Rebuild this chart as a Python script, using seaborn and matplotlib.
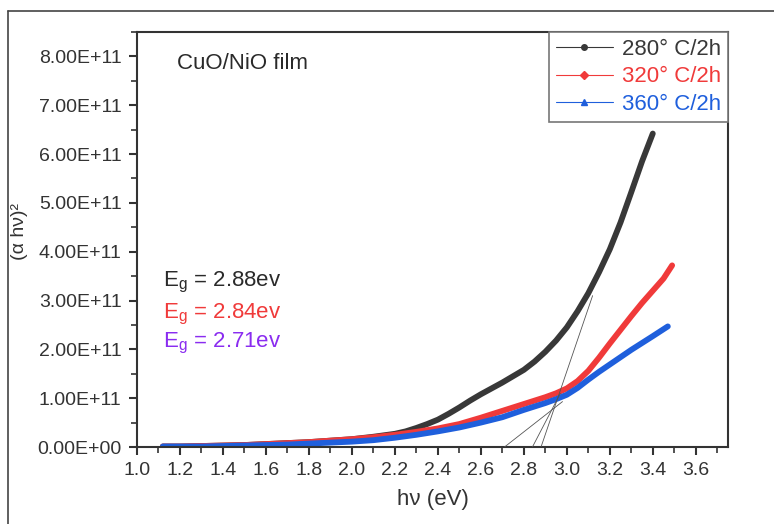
import numpy as np
import pandas as pd
import matplotlib
matplotlib.use("Agg")
import matplotlib.pyplot as plt
from matplotlib.lines import Line2D
from matplotlib.ticker import MultipleLocator, FuncFormatter
import seaborn as sns

# ---- data ----
x_280 = [1.12, 1.2, 1.3, 1.4, 1.5, 1.6, 1.7, 1.8, 1.9, 2.0, 2.1, 2.2, 2.25, 2.3, 2.35, 2.4, 2.45, 2.5,
         2.55, 2.6, 2.65, 2.7, 2.75, 2.8, 2.85, 2.9, 2.95, 3.0, 3.05, 3.1, 3.15, 3.2, 3.25, 3.3, 3.35, 3.40]
y_280 = [0.01, 0.01, 0.02, 0.03, 0.04, 0.06, 0.08, 0.10, 0.13, 0.16, 0.21, 0.27, 0.32, 0.39, 0.47, 0.56, 0.68, 0.81,
         0.95, 1.08, 1.20, 1.32, 1.45, 1.58, 1.75, 1.95, 2.18, 2.45, 2.78, 3.15, 3.58, 4.05, 4.60, 5.22, 5.85, 6.42]

x_320 = [1.12, 1.2, 1.3, 1.4, 1.5, 1.6, 1.7, 1.8, 1.9, 2.0, 2.1, 2.2, 2.3, 2.4, 2.5,
         2.6, 2.7, 2.8, 2.9, 2.95, 3.0, 3.05, 3.1, 3.15, 3.2, 3.25, 3.3, 3.35, 3.4, 3.45, 3.49]
y_320 = [0.01, 0.01, 0.02, 0.03, 0.04, 0.06, 0.08, 0.10, 0.13, 0.16, 0.20, 0.25, 0.31, 0.38, 0.47,
         0.60, 0.74, 0.88, 1.02, 1.10, 1.20, 1.35, 1.56, 1.83, 2.12, 2.40, 2.68, 2.95, 3.20, 3.45, 3.72]

x_360 = [1.12, 1.2, 1.3, 1.4, 1.5, 1.6, 1.7, 1.8, 1.9, 2.0, 2.1, 2.2, 2.3, 2.4, 2.5,
         2.6, 2.7, 2.8, 2.9, 2.95, 3.0, 3.05, 3.1, 3.15, 3.2, 3.25, 3.3, 3.35, 3.4, 3.47]
y_360 = [0.01, 0.01, 0.01, 0.02, 0.03, 0.04, 0.05, 0.07, 0.09, 0.11, 0.14, 0.19, 0.25, 0.32, 0.40,
         0.50, 0.61, 0.76, 0.90, 0.98, 1.07, 1.21, 1.38, 1.54, 1.69, 1.84, 1.99, 2.13, 2.27, 2.47]

scale = 1e11
labels = ["280° C/2h", "320° C/2h", "360° C/2h"]
colors = ["#383838", "#f03a3a", "#1f5fdc"]
markers = ["o", "D", "^"]

# tangent lines: band gap intercept and upper end point
eg_values = [2.88, 2.84, 2.71]
tan_end_x = [3.12, 2.97, 2.98]
tan_end_y = [3.10, 1.10, 0.93]
eg_labels = ["2.88ev", "2.84ev", "2.71ev"]
eg_colors = ["#2a2a2a", "#f03a3a", "#8a2cf0"]

xticks = [1.0, 1.2, 1.4, 1.6, 1.8, 2.0, 2.2, 2.4, 2.6, 2.8, 3.0, 3.2, 3.4, 3.6]
yticks = [0, 1, 2, 3, 4, 5, 6, 7, 8]

df = pd.concat([
    pd.DataFrame({"hv": x_280, "val": np.array(y_280) * scale, "sample": labels[0]}),
    pd.DataFrame({"hv": x_320, "val": np.array(y_320) * scale, "sample": labels[1]}),
    pd.DataFrame({"hv": x_360, "val": np.array(y_360) * scale, "sample": labels[2]}),
])

sns.set_theme(style="white")
plt.rcParams["font.family"] = ["Liberation Sans", "DejaVu Sans"]

fig = plt.figure(figsize=(7.74, 5.24), dpi=100)
ax = fig.add_axes([137 / 774, 77 / 524, 591 / 774, 415 / 524])

sns.lineplot(data=df, x="hv", y="val", hue="sample", hue_order=labels,
             palette=colors, linewidth=4.2, legend=False, ax=ax, sort=False)

for eg, ex, ey in zip(eg_values, tan_end_x, tan_end_y):
    ax.plot([eg, ex], [0, ey * scale], color="#555555", linewidth=0.6, zorder=5)

ax.set_xlim(1.0, 3.75)
ax.set_ylim(0, 8.5e11)
ax.set_xticks(xticks)
ax.set_yticks([v * scale for v in yticks])
ax.xaxis.set_minor_locator(MultipleLocator(0.1))
ax.yaxis.set_minor_locator(MultipleLocator(0.5e11))
ax.xaxis.set_major_formatter(FuncFormatter(lambda v, p: f"{v:.1f}"))
ax.yaxis.set_major_formatter(FuncFormatter(lambda v, p: f"{v:.2E}"))

for s in ax.spines.values():
    s.set_color("#333333")
    s.set_linewidth(1.5)
ax.tick_params(which="major", direction="out", length=6, width=1.5, color="#333333",
               labelsize=14, labelcolor="#333333", pad=5,
               bottom=True, left=True, top=False, right=False)
ax.tick_params(which="minor", direction="out", length=4, width=1.2, color="#333333",
               bottom=True, left=True, top=False, right=False)

ax.set_xlabel("hν (eV)", fontsize=16, color="#333333")
ax.set_ylabel("(α hν)²", fontsize=14, color="#333333")
ax.xaxis.set_label_coords(0.5, -0.10)
ax.yaxis.set_label_coords(-0.185, 0.52)

ax.text(0.068, 0.911, "CuO/NiO film", transform=ax.transAxes, fontsize=16,
        color="#2a2a2a", va="baseline", ha="left")

for yb, lab, col in zip([0.386, 0.311, 0.239], eg_labels, eg_colors):
    ax.text(0.044, yb, "E$_\\mathregular{g}$ = " + lab, transform=ax.transAxes,
            fontsize=16, color=col, va="baseline", ha="left")

handles = [Line2D([0], [0], color=c, linewidth=0.8, marker=m, markersize=4,
                  markerfacecolor=c, markeredgecolor=c)
           for c, m in zip(colors, markers)]
leg = ax.legend(handles, labels, loc="upper right", borderaxespad=0, fontsize=16,
                frameon=True, fancybox=False, edgecolor="#777777", framealpha=1,
                handlelength=2.6, handletextpad=0.4, labelspacing=0.3, borderpad=0.3)
leg.get_frame().set_linewidth(1.2)
for t, c in zip(leg.get_texts(), colors):
    t.set_color(c)

# outer frame (top and left edges visible)
fig.add_artist(Line2D([8 / 774, 1.0], [1 - 11 / 524, 1 - 11 / 524],
                      transform=fig.transFigure, color="#444444", linewidth=1.2))
fig.add_artist(Line2D([8 / 774, 8 / 774], [0, 1 - 11 / 524],
                      transform=fig.transFigure, color="#444444", linewidth=1.2))

fig.savefig("out.png", dpi=100)
